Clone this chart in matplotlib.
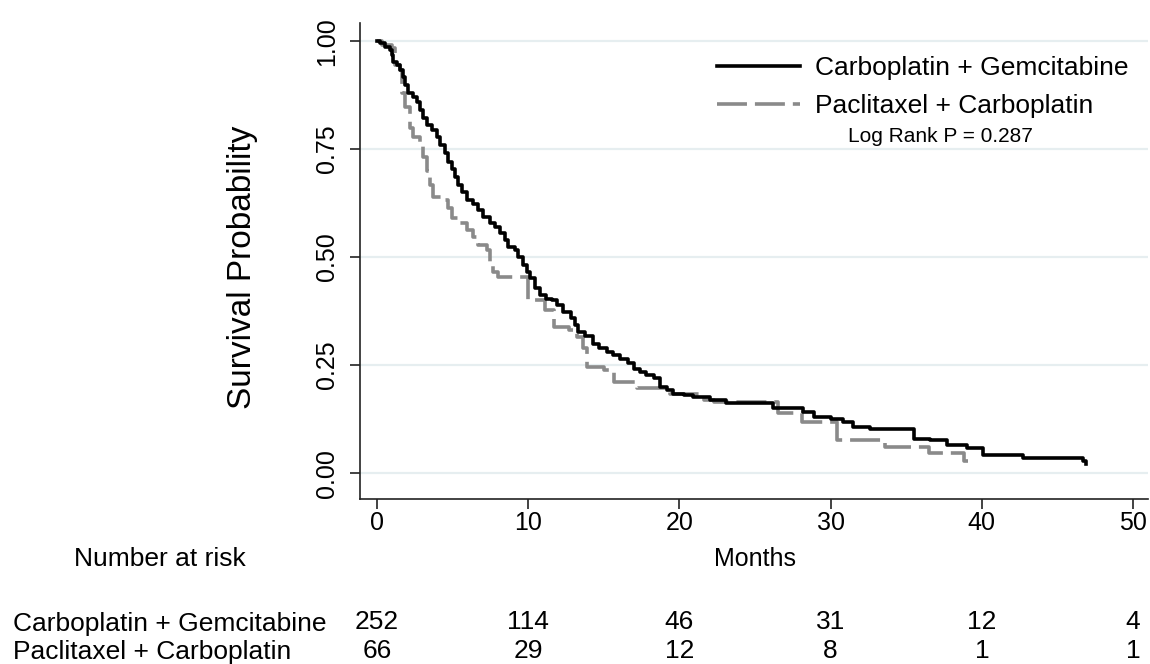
import matplotlib
matplotlib.use("Agg")
import matplotlib.pyplot as plt
from matplotlib.lines import Line2D
import matplotlib.transforms as mtransforms

plt.rcParams['font.family'] = ['Liberation Sans', 'DejaVu Sans']

# ---- data ----
series_names = ["Carboplatin + Gemcitabine", "Paclitaxel + Carboplatin"]

cg_time = [0, 0.2, 0.53, 0.86, 0.97, 1.08, 1.30, 1.52, 1.70, 1.85, 2.07, 2.40, 2.62,
           2.84, 3.06, 3.28, 3.62, 3.95, 4.17, 4.50, 4.72, 4.94, 5.16, 5.38, 5.60,
           5.93, 6.37, 6.70, 7.03, 7.47, 7.80, 8.13, 8.47, 8.68, 9.13, 9.35, 9.68,
           9.90, 10.12, 10.45, 10.8, 11.2, 11.55, 11.9, 12.3, 12.8, 13.1, 13.3, 13.76,
           14.3, 14.7, 15.2, 15.6, 16.1, 16.6, 17.0, 17.4, 17.8, 18.3, 18.7, 19.2,
           19.6, 20.3, 20.9, 22.0, 23.1, 26.2, 28.2, 28.9, 30.0, 30.8, 31.5, 32.6,
           35.5, 36.6, 37.7, 39.0, 40.1, 42.7, 46.7, 46.9]
cg_surv = [1.0, 0.996, 0.987, 0.979, 0.968, 0.952, 0.944, 0.933, 0.917, 0.898, 0.879,
           0.871, 0.860, 0.840, 0.821, 0.806, 0.794, 0.778, 0.759, 0.740, 0.721, 0.705,
           0.686, 0.667, 0.651, 0.632, 0.624, 0.609, 0.593, 0.578, 0.570, 0.555, 0.539,
           0.524, 0.516, 0.501, 0.481, 0.466, 0.451, 0.428, 0.412, 0.404, 0.400, 0.389,
           0.373, 0.358, 0.343, 0.327, 0.317, 0.300, 0.289, 0.281, 0.273, 0.265, 0.254,
           0.242, 0.234, 0.227, 0.219, 0.200, 0.192, 0.184, 0.181, 0.177, 0.169, 0.162,
           0.150, 0.142, 0.130, 0.125, 0.119, 0.107, 0.102, 0.080, 0.076, 0.065, 0.057,
           0.042, 0.036, 0.028, 0.022]

pc_time = [0, 0.3, 1.0, 1.2, 1.5, 1.63, 1.85, 2.2, 2.4, 2.84, 3.06, 3.3, 3.5, 3.73,
           4.28, 4.72, 4.94, 5.49, 5.93, 6.37, 6.7, 7.26, 7.47, 7.69, 8.0, 10.0, 11.1,
           11.7, 12.7, 13.2, 13.6, 13.9, 15.0, 15.7, 17.2, 19.4, 21.6, 22.3, 26.5,
           28.1, 30.4, 33.6, 36.5, 38.8, 39.1]
pc_surv = [1.0, 0.991, 0.985, 0.944, 0.933, 0.879, 0.848, 0.80, 0.778, 0.759, 0.732,
           0.70, 0.667, 0.640, 0.632, 0.613, 0.590, 0.578, 0.5625, 0.547, 0.528, 0.516,
           0.485, 0.466, 0.455, 0.40, 0.377, 0.339, 0.331, 0.316, 0.289, 0.246, 0.238,
           0.211, 0.196, 0.184, 0.169, 0.165, 0.138, 0.119, 0.076, 0.061, 0.046, 0.028,
           0.028]

x_ticks = [0, 10, 20, 30, 40, 50]
y_ticks = [0.0, 0.25, 0.5, 0.75, 1.0]
y_ticklabels = ["0.00", "0.25", "0.50", "0.75", "1.00"]

risk_cg = [252, 114, 46, 31, 12, 4]
risk_pc = [66, 29, 12, 8, 1, 1]

log_rank_text = "Log Rank P = 0.287"

# ---- figure ----
W, H = 1150, 664
fig = plt.figure(figsize=(W / 100, H / 100), dpi=100)
fig.patch.set_facecolor("white")

def fx(px):
    return px / W

def fy(py):
    return 1 - py / H

ax_left, ax_right, ax_top, ax_bottom = 360, 1148, 23, 499
ax = fig.add_axes([fx(ax_left), fy(ax_bottom), (ax_right - ax_left) / W, (ax_bottom - ax_top) / H])

ax.set_xlim(-1.124, 50.99)
ax.set_ylim(-0.060, 1.042)

for s in ["top", "right"]:
    ax.spines[s].set_visible(False)
for s in ["left", "bottom"]:
    ax.spines[s].set_color("#222222")
    ax.spines[s].set_linewidth(1.2)

ax.set_yticks(y_ticks)
ax.set_yticklabels(y_ticklabels, rotation=90, va="center")
ax.set_xticks(x_ticks)
ax.tick_params(axis="both", length=7, width=1.2, color="#222222", labelsize=18)
ax.tick_params(axis="x", pad=2)
ax.tick_params(axis="y", pad=8)

for yv in y_ticks:
    ax.axhline(yv, color="#e6eef0", lw=1.6, zorder=0)

LW = 2.6
DASH = (8.3, 2.2)
ax.step(cg_time, cg_surv, where="post", color="black", lw=LW, zorder=3)
ax.step(pc_time, pc_surv, where="post", color="#8a8a8a", lw=LW, zorder=2, dashes=DASH)

h1 = Line2D([], [], color="black", lw=LW)
h2 = Line2D([], [], color="#8a8a8a", lw=LW, dashes=DASH)
fig.legend([h1, h2], series_names, loc="upper left",
           bbox_to_anchor=(fx(717), fy(56)), frameon=False, fontsize=19,
           handlelength=3.15, handletextpad=0.55, labelspacing=0.53,
           borderpad=0, borderaxespad=0)

fig.text(fx(940), fy(142), log_rank_text, ha="center", va="baseline", fontsize=15)

fig.text(fx(243), fy(267), "Survival Probability", rotation=90, ha="center",
         va="center", fontsize=24)

fig.text(fx(755), fy(566), "Months", ha="center", va="baseline", fontsize=18)
fig.text(fx(160), fy(566), "Number at risk", ha="center", va="baseline", fontsize=19)

fig.text(fx(13), fy(631), series_names[0], ha="left", va="baseline", fontsize=19)
fig.text(fx(13), fy(659), series_names[1], ha="left", va="baseline", fontsize=19)

trans = mtransforms.blended_transform_factory(ax.transData, fig.transFigure)
for xt, n1, n2 in zip(x_ticks, risk_cg, risk_pc):
    ax.text(xt, fy(629), str(n1), transform=trans, ha="center", va="baseline",
            fontsize=19, clip_on=False)
    ax.text(xt, fy(658), str(n2), transform=trans, ha="center", va="baseline",
            fontsize=19, clip_on=False)

fig.savefig("out.png", dpi=100, facecolor="white")
